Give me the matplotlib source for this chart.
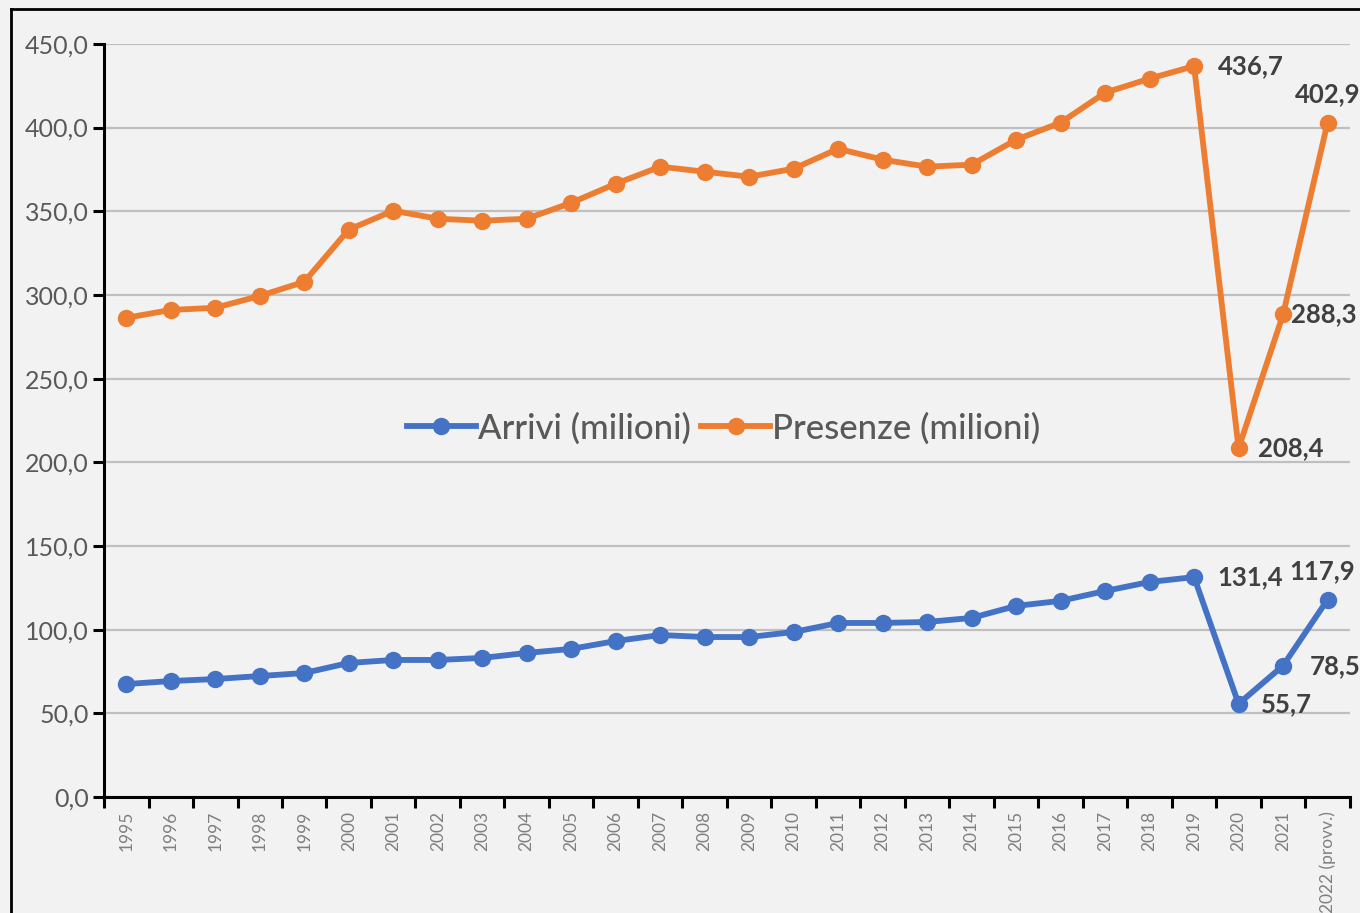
import matplotlib.pyplot as plt
from matplotlib.lines import Line2D

anni = ['1995', '1996', '1997', '1998', '1999', '2000', '2001', '2002', '2003', '2004',
        '2005', '2006', '2007', '2008', '2009', '2010', '2011', '2012', '2013', '2014',
        '2015', '2016', '2017', '2018', '2019', '2020', '2021', '2022 (provv.)']
arrivi = [67.5, 69.3, 70.5, 72.3, 74.1, 80.1, 81.9, 81.9, 83.1, 86.1,
          88.5, 93.2, 96.8, 95.6, 95.6, 98.6, 104.0, 104.0, 104.6, 107.0,
          114.2, 117.2, 123.1, 128.5, 131.4, 55.7, 78.5, 117.9]
presenze = [286.3, 291.0, 292.3, 299.4, 307.8, 339.0, 350.3, 345.5, 344.3, 345.5,
            355.0, 366.4, 376.6, 373.6, 370.6, 375.4, 387.3, 380.8, 376.6, 377.8,
            392.7, 402.9, 420.8, 429.2, 436.7, 208.4, 288.3, 402.9]
yticks = [0, 50, 100, 150, 200, 250, 300, 350, 400, 450]

blu = '#4472C4'
arancio = '#ED7D31'
grigio = '#595959'
plt.rcParams['font.family'] = ['Lato', 'DejaVu Sans']

fig = plt.figure(figsize=(13.6, 9.13), dpi=100)
fig.patch.set_facecolor('#f2f2f2')
ax = fig.add_axes([0.0765, 0.127, 0.916, 0.825])
ax.set_facecolor('#f2f2f2')

x = list(range(len(anni)))
ax.plot(x, arrivi, color=blu, lw=4.2, marker='o', ms=11.5, label='Arrivi (milioni)', zorder=3)
ax.plot(x, presenze, color=arancio, lw=4.2, marker='o', ms=11.5, label='Presenze (milioni)', zorder=3)

ax.set_xlim(-0.5, len(anni) - 0.5)
ax.set_ylim(0, 450)
ax.set_yticks(yticks)
ax.set_yticklabels(['%d,0' % v for v in yticks], fontsize=18, color=grigio)
ax.set_xticks(x)
ax.set_xticklabels(anni, rotation=90, fontsize=12.5, color='#7f7f7f')
ax.set_xticks([i - 0.5 for i in range(len(anni) + 1)], minor=True)
ax.tick_params(axis='x', which='major', length=0, pad=10)
ax.tick_params(axis='x', which='minor', length=8, width=2.2, direction='out')
ax.tick_params(axis='y', length=8, width=2.2, direction='out', pad=3)
ax.yaxis.grid(True, color='#bfbfbf', lw=1.6)
ax.set_axisbelow(True)
for s in ['top', 'right']:
    ax.spines[s].set_visible(False)
for s in ['left', 'bottom']:
    ax.spines[s].set_linewidth(2.2)
    ax.spines[s].set_color('black')

# etichette dei valori negli ultimi anni
n = len(anni)
etichette = [
    (n - 4, presenze, (17, 0), 'left', 'center'),
    (n - 1, presenze, (0, 12), 'center', 'bottom'),
    (n - 2, presenze, (6, 0), 'left', 'center'),
    (n - 3, presenze, (14, 0), 'left', 'center'),
    (n - 4, arrivi, (17, 0), 'left', 'center'),
    (n - 1, arrivi, (-4, 12), 'center', 'bottom'),
    (n - 2, arrivi, (19, 0), 'left', 'center'),
    (n - 3, arrivi, (16, 0), 'left', 'center'),
]
for i, serie, off, ha, va in etichette:
    ax.annotate(('%.1f' % serie[i]).replace('.', ','), (i, serie[i]), xytext=off,
                textcoords='offset points', ha=ha, va=va, fontsize=18.5,
                fontweight='bold', color='#404040', annotation_clip=False)

leg = ax.legend(loc='center', bbox_to_anchor=(0.532, 0.531), bbox_transform=fig.transFigure,
                ncol=2, frameon=False, handlelength=2.0, handletextpad=0.05,
                columnspacing=0.3, labelcolor=grigio, prop={'size': 25, 'weight': 'medium'})

# cornice esterna
fig.add_artist(Line2D([0.0081, 0.0081], [0, 0.990], color='black', lw=2, transform=fig.transFigure))
fig.add_artist(Line2D([0.0081, 1], [0.990, 0.990], color='black', lw=2, transform=fig.transFigure))

fig.savefig('out.png', dpi=100, facecolor=fig.get_facecolor())
